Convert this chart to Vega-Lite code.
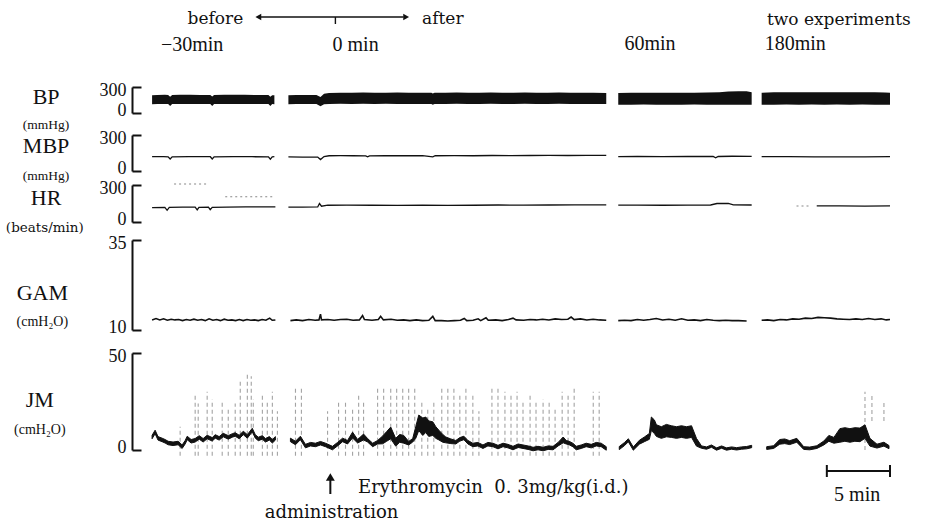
{
"$schema": "https://vega.github.io/schema/vega-lite/v6.json",
"padding": {"left": 5, "top": 0, "right": 0, "bottom": 0},
"background": "white",
"bounds": "flush",
"spacing": 0,
"config": {
  "view": {"stroke": null},
  "axis": {"grid": false},
  "axisY": {"domainColor": "#111", "domainWidth": 2, "tickColor": "#111", "tickWidth": 2, "tickSize": -9, "labelFont": "Liberation Serif", "labelFontSize": 18, "labelColor": "#111", "labelPadding": 15, "labelFlush": true, "labelFlushOffset": 6, "title": null}
},
"datasets": {
  "bp": [
    {"seg":1,"t":1.59,"lo":100,"hi":206},{"seg":1,"t":2.0,"lo":103,"hi":208},{"seg":1,"t":2.6,"lo":104,"hi":210},{"seg":1,"t":2.86,"lo":103,"hi":207},{"seg":1,"t":3.02,"lo":80,"hi":188},{"seg":1,"t":3.18,"lo":103,"hi":207},{"seg":1,"t":3.8,"lo":104,"hi":210},{"seg":1,"t":4.6,"lo":105,"hi":211},{"seg":1,"t":5.4,"lo":104,"hi":209},{"seg":1,"t":6.2,"lo":103,"hi":207},{"seg":1,"t":6.35,"lo":82,"hi":190},{"seg":1,"t":6.5,"lo":103,"hi":207},{"seg":1,"t":7.3,"lo":105,"hi":210},{"seg":1,"t":8.1,"lo":104,"hi":211},{"seg":1,"t":8.9,"lo":105,"hi":210},{"seg":1,"t":9.7,"lo":104,"hi":209},{"seg":1,"t":10.5,"lo":103,"hi":208},{"seg":1,"t":10.8,"lo":103,"hi":207},{"seg":1,"t":10.95,"lo":82,"hi":188},{"seg":1,"t":11.1,"lo":103,"hi":206},{"seg":1,"t":11.27,"lo":100,"hi":204},
    {"seg":2,"t":12.38,"lo":100,"hi":206},{"seg":2,"t":13.0,"lo":104,"hi":208},{"seg":2,"t":13.8,"lo":103,"hi":209},{"seg":2,"t":14.6,"lo":103,"hi":207},{"seg":2,"t":14.92,"lo":78,"hi":185},{"seg":2,"t":15.2,"lo":102,"hi":222},{"seg":2,"t":15.6,"lo":105,"hi":232},{"seg":2,"t":16.5,"lo":106,"hi":234},{"seg":2,"t":17.4,"lo":105,"hi":235},{"seg":2,"t":18.3,"lo":106,"hi":236},{"seg":2,"t":19.2,"lo":105,"hi":234},{"seg":2,"t":20.1,"lo":106,"hi":235},{"seg":2,"t":21.0,"lo":105,"hi":236},{"seg":2,"t":21.9,"lo":104,"hi":235},{"seg":2,"t":22.8,"lo":105,"hi":234},{"seg":2,"t":23.7,"lo":104,"hi":233},{"seg":2,"t":23.81,"lo":95,"hi":225},{"seg":2,"t":23.95,"lo":104,"hi":233},{"seg":2,"t":24.8,"lo":105,"hi":235},{"seg":2,"t":25.7,"lo":106,"hi":236},{"seg":2,"t":26.6,"lo":105,"hi":234},{"seg":2,"t":27.5,"lo":104,"hi":235},{"seg":2,"t":28.4,"lo":106,"hi":236},{"seg":2,"t":29.3,"lo":105,"hi":235},{"seg":2,"t":30.2,"lo":104,"hi":234},{"seg":2,"t":31.1,"lo":106,"hi":236},{"seg":2,"t":32.0,"lo":105,"hi":235},{"seg":2,"t":32.9,"lo":104,"hi":234},{"seg":2,"t":33.8,"lo":106,"hi":236},{"seg":2,"t":34.7,"lo":105,"hi":235},{"seg":2,"t":35.6,"lo":104,"hi":234},{"seg":2,"t":36.5,"lo":105,"hi":235},{"seg":2,"t":37.54,"lo":103,"hi":232},
    {"seg":3,"t":38.49,"lo":94,"hi":230},{"seg":3,"t":39.5,"lo":96,"hi":234},{"seg":3,"t":40.5,"lo":97,"hi":233},{"seg":3,"t":41.5,"lo":96,"hi":234},{"seg":3,"t":42.5,"lo":95,"hi":234},{"seg":3,"t":43.5,"lo":96,"hi":235},{"seg":3,"t":44.5,"lo":97,"hi":235},{"seg":3,"t":45.5,"lo":96,"hi":236},{"seg":3,"t":46.5,"lo":95,"hi":240},{"seg":3,"t":47.2,"lo":96,"hi":248},{"seg":3,"t":48.0,"lo":96,"hi":252},{"seg":3,"t":48.65,"lo":96,"hi":250},{"seg":3,"t":49.05,"lo":95,"hi":240},
    {"seg":4,"t":49.84,"lo":94,"hi":234},{"seg":4,"t":50.8,"lo":96,"hi":238},{"seg":4,"t":51.8,"lo":97,"hi":238},{"seg":4,"t":52.8,"lo":96,"hi":238},{"seg":4,"t":53.8,"lo":97,"hi":239},{"seg":4,"t":54.8,"lo":96,"hi":238},{"seg":4,"t":55.8,"lo":97,"hi":238},{"seg":4,"t":56.8,"lo":96,"hi":238},{"seg":4,"t":57.8,"lo":97,"hi":239},{"seg":4,"t":58.8,"lo":96,"hi":238},{"seg":4,"t":59.6,"lo":96,"hi":237},{"seg":4,"t":60.0,"lo":94,"hi":234}
  ],
  "mbp": [
    {"seg":1,"t":1.59,"v":119},{"seg":1,"t":2.5,"v":120},{"seg":1,"t":2.86,"v":118},{"seg":1,"t":3.02,"v":100},{"seg":1,"t":3.18,"v":118},{"seg":1,"t":4.5,"v":120},{"seg":1,"t":6.2,"v":119},{"seg":1,"t":6.35,"v":100},{"seg":1,"t":6.5,"v":118},{"seg":1,"t":8.0,"v":120},{"seg":1,"t":9.5,"v":119},{"seg":1,"t":10.8,"v":118},{"seg":1,"t":10.95,"v":98},{"seg":1,"t":11.1,"v":118},{"seg":1,"t":11.27,"v":119},
    {"seg":2,"t":12.38,"v":117},{"seg":2,"t":13.5,"v":116},{"seg":2,"t":14.7,"v":116},{"seg":2,"t":14.92,"v":95},{"seg":2,"t":15.2,"v":120},{"seg":2,"t":15.6,"v":127},{"seg":2,"t":16.5,"v":128},{"seg":2,"t":17.5,"v":127},{"seg":2,"t":18.5,"v":126},{"seg":2,"t":18.65,"v":118},{"seg":2,"t":18.8,"v":126},{"seg":2,"t":20.0,"v":128},{"seg":2,"t":21.5,"v":127},{"seg":2,"t":23.0,"v":128},{"seg":2,"t":23.81,"v":118},{"seg":2,"t":24.0,"v":127},{"seg":2,"t":25.5,"v":128},{"seg":2,"t":27.0,"v":127},{"seg":2,"t":28.5,"v":129},{"seg":2,"t":30.0,"v":128},{"seg":2,"t":31.5,"v":129},{"seg":2,"t":33.0,"v":130},{"seg":2,"t":34.5,"v":129},{"seg":2,"t":36.0,"v":131},{"seg":2,"t":37.54,"v":131},
    {"seg":3,"t":38.49,"v":120},{"seg":3,"t":40.0,"v":121},{"seg":3,"t":42.0,"v":119},{"seg":3,"t":44.0,"v":121},{"seg":3,"t":46.0,"v":121},{"seg":3,"t":46.2,"v":110},{"seg":3,"t":46.4,"v":121},{"seg":3,"t":47.5,"v":123},{"seg":3,"t":49.05,"v":122},
    {"seg":4,"t":49.84,"v":119},{"seg":4,"t":52.0,"v":119},{"seg":4,"t":54.0,"v":118},{"seg":4,"t":56.0,"v":117},{"seg":4,"t":58.0,"v":118},{"seg":4,"t":60.0,"v":119}
  ],
  "hr": [
    {"seg":1,"t":1.59,"v":117},{"seg":1,"t":2.6,"v":119},{"seg":1,"t":2.78,"v":95},{"seg":1,"t":2.95,"v":118},{"seg":1,"t":4.0,"v":121},{"seg":1,"t":5.0,"v":120},{"seg":1,"t":5.16,"v":98},{"seg":1,"t":5.3,"v":119},{"seg":1,"t":6.05,"v":120},{"seg":1,"t":6.19,"v":100},{"seg":1,"t":6.35,"v":119},{"seg":1,"t":7.5,"v":121},{"seg":1,"t":9.0,"v":122},{"seg":1,"t":10.5,"v":122},{"seg":1,"t":11.35,"v":122},
    {"seg":2,"t":12.38,"v":120},{"seg":2,"t":13.5,"v":121},{"seg":2,"t":14.7,"v":122},{"seg":2,"t":14.84,"v":150},{"seg":2,"t":15.0,"v":128},{"seg":2,"t":15.5,"v":136},{"seg":2,"t":17.0,"v":137},{"seg":2,"t":19.0,"v":136},{"seg":2,"t":21.0,"v":135},{"seg":2,"t":23.0,"v":136},{"seg":2,"t":25.0,"v":135},{"seg":2,"t":27.0,"v":136},{"seg":2,"t":29.0,"v":138},{"seg":2,"t":31.0,"v":137},{"seg":2,"t":33.0,"v":138},{"seg":2,"t":35.0,"v":139},{"seg":2,"t":37.54,"v":139},
    {"seg":3,"t":38.49,"v":137},{"seg":3,"t":40.0,"v":137},{"seg":3,"t":42.0,"v":136},{"seg":3,"t":44.0,"v":137},{"seg":3,"t":45.8,"v":138},{"seg":3,"t":46.3,"v":150},{"seg":3,"t":47.2,"v":151},{"seg":3,"t":47.6,"v":139},{"seg":3,"t":49.05,"v":138},
    {"seg":4,"t":54.2,"v":130},{"seg":4,"t":56.0,"v":130},{"seg":4,"t":58.0,"v":129},{"seg":4,"t":60.0,"v":130}
  ],
  "hrart": [
    {"seg":"a","t":3.33,"v":308},{"seg":"a","t":6.03,"v":308},
    {"seg":"b","t":7.38,"v":205},{"seg":"b","t":11.1,"v":205},
    {"seg":"c","t":52.6,"v":130},{"seg":"c","t":53.6,"v":130}
  ],
  "gam": [
    {"seg":1,"t":1.59,"v":12.8},{"seg":1,"t":1.9,"v":13.2},{"seg":1,"t":2.2,"v":12.8},{"seg":1,"t":2.5,"v":13.1},{"seg":1,"t":2.8,"v":12.7},{"seg":1,"t":3.1,"v":13.0},{"seg":1,"t":3.4,"v":12.8},{"seg":1,"t":3.7,"v":12.9},{"seg":1,"t":4.0,"v":12.6},{"seg":1,"t":4.3,"v":12.9},{"seg":1,"t":4.6,"v":12.7},{"seg":1,"t":4.9,"v":13.0},{"seg":1,"t":5.2,"v":12.7},{"seg":1,"t":5.5,"v":12.9},{"seg":1,"t":5.8,"v":12.6},{"seg":1,"t":6.1,"v":13.1},{"seg":1,"t":6.4,"v":12.7},{"seg":1,"t":6.7,"v":12.9},{"seg":1,"t":7.0,"v":12.6},{"seg":1,"t":7.3,"v":13.0},{"seg":1,"t":7.6,"v":12.7},{"seg":1,"t":7.9,"v":12.8},{"seg":1,"t":8.2,"v":12.6},{"seg":1,"t":8.5,"v":12.9},{"seg":1,"t":8.8,"v":12.6},{"seg":1,"t":9.1,"v":12.9},{"seg":1,"t":9.4,"v":12.7},{"seg":1,"t":9.7,"v":12.8},{"seg":1,"t":10.0,"v":12.6},{"seg":1,"t":10.3,"v":12.9},{"seg":1,"t":10.6,"v":12.7},{"seg":1,"t":10.9,"v":13.3},{"seg":1,"t":11.1,"v":12.7},{"seg":1,"t":11.35,"v":12.8},
    {"seg":2,"t":12.54,"v":12.6},{"seg":2,"t":13.0,"v":12.8},{"seg":2,"t":13.5,"v":12.6},{"seg":2,"t":14.0,"v":12.9},{"seg":2,"t":14.5,"v":12.7},{"seg":2,"t":14.8,"v":12.8},{"seg":2,"t":14.92,"v":14.4},{"seg":2,"t":15.0,"v":12.8},{"seg":2,"t":15.5,"v":12.9},{"seg":2,"t":16.0,"v":12.7},{"seg":2,"t":16.5,"v":12.9},{"seg":2,"t":17.0,"v":13.0},{"seg":2,"t":17.5,"v":12.7},{"seg":2,"t":18.0,"v":12.8},{"seg":2,"t":18.25,"v":14.0},{"seg":2,"t":18.4,"v":12.9},{"seg":2,"t":19.0,"v":12.7},{"seg":2,"t":19.5,"v":12.9},{"seg":2,"t":19.68,"v":13.8},{"seg":2,"t":19.9,"v":12.8},{"seg":2,"t":20.5,"v":13.0},{"seg":2,"t":21.0,"v":12.7},{"seg":2,"t":21.5,"v":12.8},{"seg":2,"t":22.0,"v":12.6},{"seg":2,"t":22.5,"v":12.8},{"seg":2,"t":23.0,"v":12.6},{"seg":2,"t":23.5,"v":12.7},{"seg":2,"t":23.81,"v":13.8},{"seg":2,"t":24.0,"v":12.6},{"seg":2,"t":24.5,"v":12.6},{"seg":2,"t":25.0,"v":12.5},{"seg":2,"t":25.5,"v":12.6},{"seg":2,"t":26.0,"v":12.7},{"seg":2,"t":26.3,"v":13.2},{"seg":2,"t":26.5,"v":12.6},{"seg":2,"t":27.0,"v":12.7},{"seg":2,"t":27.4,"v":13.1},{"seg":2,"t":27.6,"v":12.6},{"seg":2,"t":28.02,"v":13.4},{"seg":2,"t":28.2,"v":12.7},{"seg":2,"t":28.8,"v":12.8},{"seg":2,"t":29.3,"v":12.6},{"seg":2,"t":29.8,"v":12.9},{"seg":2,"t":30.16,"v":13.3},{"seg":2,"t":30.4,"v":12.8},{"seg":2,"t":31.0,"v":12.7},{"seg":2,"t":31.5,"v":12.9},{"seg":2,"t":32.0,"v":12.8},{"seg":2,"t":32.5,"v":13.0},{"seg":2,"t":33.0,"v":12.8},{"seg":2,"t":33.5,"v":13.1},{"seg":2,"t":34.0,"v":12.9},{"seg":2,"t":34.5,"v":13.0},{"seg":2,"t":34.76,"v":13.6},{"seg":2,"t":35.0,"v":12.9},{"seg":2,"t":35.5,"v":13.1},{"seg":2,"t":36.0,"v":12.8},{"seg":2,"t":36.5,"v":13.0},{"seg":2,"t":37.0,"v":12.8},{"seg":2,"t":37.54,"v":12.7},
    {"seg":3,"t":38.49,"v":12.6},{"seg":3,"t":39.0,"v":12.7},{"seg":3,"t":39.5,"v":12.6},{"seg":3,"t":40.0,"v":12.9},{"seg":3,"t":40.5,"v":12.7},{"seg":3,"t":41.0,"v":12.9},{"seg":3,"t":41.5,"v":13.2},{"seg":3,"t":42.0,"v":12.8},{"seg":3,"t":42.5,"v":13.0},{"seg":3,"t":43.0,"v":12.7},{"seg":3,"t":43.5,"v":13.1},{"seg":3,"t":44.0,"v":12.7},{"seg":3,"t":44.5,"v":12.8},{"seg":3,"t":45.0,"v":12.6},{"seg":3,"t":45.5,"v":12.9},{"seg":3,"t":46.0,"v":12.7},{"seg":3,"t":46.5,"v":12.6},{"seg":3,"t":47.0,"v":12.7},{"seg":3,"t":47.5,"v":12.6},{"seg":3,"t":48.0,"v":12.6},{"seg":3,"t":48.65,"v":12.5},
    {"seg":4,"t":49.84,"v":12.7},{"seg":4,"t":50.3,"v":12.8},{"seg":4,"t":50.8,"v":12.6},{"seg":4,"t":51.3,"v":12.9},{"seg":4,"t":51.8,"v":12.8},{"seg":4,"t":52.3,"v":13.1},{"seg":4,"t":52.8,"v":13.0},{"seg":4,"t":53.3,"v":13.3},{"seg":4,"t":53.8,"v":13.2},{"seg":4,"t":54.3,"v":13.5},{"seg":4,"t":54.8,"v":13.4},{"seg":4,"t":55.3,"v":13.3},{"seg":4,"t":55.8,"v":13.1},{"seg":4,"t":56.3,"v":13.0},{"seg":4,"t":56.8,"v":12.9},{"seg":4,"t":57.3,"v":13.1},{"seg":4,"t":57.8,"v":12.9},{"seg":4,"t":58.3,"v":13.2},{"seg":4,"t":58.8,"v":12.9},{"seg":4,"t":59.3,"v":13.1},{"seg":4,"t":59.7,"v":12.8},{"seg":4,"t":60.0,"v":12.9}
  ],
  "jm": [
    {"seg":1,"t":1.59,"lo":5.8,"hi":7.6},{"seg":1,"t":1.83,"lo":8.4,"hi":10.2},{"seg":1,"t":2.06,"lo":5.1,"hi":6.9},{"seg":1,"t":2.38,"lo":4.3,"hi":6.1},{"seg":1,"t":2.62,"lo":3.6,"hi":5.4},{"seg":1,"t":2.86,"lo":2.7,"hi":4.5},{"seg":1,"t":3.25,"lo":2.3,"hi":4.1},{"seg":1,"t":3.65,"lo":2.7,"hi":4.5},{"seg":1,"t":3.97,"lo":0.8,"hi":2.6},{"seg":1,"t":4.21,"lo":3.1,"hi":4.9},{"seg":1,"t":4.37,"lo":5.3,"hi":7.1},{"seg":1,"t":4.68,"lo":3.6,"hi":5.4},{"seg":1,"t":5.0,"lo":4.1,"hi":5.9},{"seg":1,"t":5.32,"lo":5.6,"hi":7.4},{"seg":1,"t":5.63,"lo":4.1,"hi":5.9},{"seg":1,"t":5.95,"lo":5.8,"hi":7.6},{"seg":1,"t":6.35,"lo":4.6,"hi":6.4},{"seg":1,"t":6.59,"lo":6.1,"hi":7.9},{"seg":1,"t":6.9,"lo":5.1,"hi":6.9},{"seg":1,"t":7.22,"lo":6.8,"hi":8.6},{"seg":1,"t":7.62,"lo":5.6,"hi":7.4},{"seg":1,"t":7.94,"lo":6.6,"hi":8.4},{"seg":1,"t":8.17,"lo":7.1,"hi":8.9},{"seg":1,"t":8.49,"lo":5.8,"hi":7.6},{"seg":1,"t":8.81,"lo":7.9,"hi":9.7},{"seg":1,"t":9.13,"lo":6.1,"hi":7.9},{"seg":1,"t":9.52,"lo":9.4,"hi":11.2},{"seg":1,"t":9.76,"lo":6.1,"hi":7.9},{"seg":1,"t":10.0,"lo":4.8,"hi":6.6},{"seg":1,"t":10.32,"lo":5.6,"hi":7.4},{"seg":1,"t":10.56,"lo":4.1,"hi":5.9},{"seg":1,"t":10.87,"lo":5.1,"hi":6.9},{"seg":1,"t":11.11,"lo":3.6,"hi":5.4},{"seg":1,"t":11.35,"lo":5.1,"hi":6.9},
    {"seg":2,"t":12.54,"lo":4.3,"hi":6.1},{"seg":2,"t":12.94,"lo":2.7,"hi":4.5},{"seg":2,"t":13.33,"lo":5.3,"hi":7.1},{"seg":2,"t":13.73,"lo":1.1,"hi":2.9},{"seg":2,"t":14.13,"lo":2.1,"hi":3.9},{"seg":2,"t":14.52,"lo":1.7,"hi":3.5},{"seg":2,"t":14.92,"lo":2.6,"hi":4.4},{"seg":2,"t":15.32,"lo":1.7,"hi":3.5},{"seg":2,"t":15.87,"lo":0.1,"hi":1.9},{"seg":2,"t":16.27,"lo":2.1,"hi":3.9},{"seg":2,"t":16.67,"lo":4.3,"hi":6.1},{"seg":2,"t":17.06,"lo":3.1,"hi":4.9},{"seg":2,"t":17.46,"lo":6.2,"hi":9.2},{"seg":2,"t":17.86,"lo":3.6,"hi":5.4},{"seg":2,"t":18.33,"lo":5.2,"hi":8.2},{"seg":2,"t":18.65,"lo":4.1,"hi":5.9},{"seg":2,"t":19.05,"lo":1.7,"hi":3.5},{"seg":2,"t":19.44,"lo":3.1,"hi":4.9},{"seg":2,"t":19.84,"lo":3.2,"hi":7.2},{"seg":2,"t":20.16,"lo":4.5,"hi":9.5},{"seg":2,"t":20.48,"lo":5.8,"hi":11.8},{"seg":2,"t":20.87,"lo":2.0,"hi":6.0},{"seg":2,"t":21.19,"lo":4.0,"hi":8.0},{"seg":2,"t":21.51,"lo":3.5,"hi":7.5},{"seg":2,"t":21.9,"lo":2.6,"hi":4.4},{"seg":2,"t":22.22,"lo":4.1,"hi":5.9},{"seg":2,"t":22.46,"lo":6.0,"hi":12.0},{"seg":2,"t":22.70,"lo":10.0,"hi":18.0},{"seg":2,"t":23.02,"lo":7.5,"hi":16.5},{"seg":2,"t":23.25,"lo":9.0,"hi":17.0},{"seg":2,"t":23.49,"lo":7.0,"hi":15.0},{"seg":2,"t":23.81,"lo":7.5,"hi":14.5},{"seg":2,"t":24.05,"lo":6.0,"hi":12.0},{"seg":2,"t":24.29,"lo":5.2,"hi":10.2},{"seg":2,"t":24.60,"lo":4.0,"hi":8.0},{"seg":2,"t":24.84,"lo":3.7,"hi":6.7},{"seg":2,"t":25.24,"lo":3.3,"hi":5.7},{"seg":2,"t":25.63,"lo":3.1,"hi":4.9},{"seg":2,"t":25.95,"lo":4.6,"hi":6.4},{"seg":2,"t":26.27,"lo":5.3,"hi":7.1},{"seg":2,"t":26.59,"lo":3.1,"hi":4.9},{"seg":2,"t":26.98,"lo":1.7,"hi":3.5},{"seg":2,"t":27.38,"lo":2.1,"hi":3.9},{"seg":2,"t":27.78,"lo":0.8,"hi":2.6},{"seg":2,"t":28.17,"lo":2.1,"hi":3.9},{"seg":2,"t":28.57,"lo":1.7,"hi":3.5},{"seg":2,"t":28.97,"lo":0.6,"hi":2.4},{"seg":2,"t":29.37,"lo":1.7,"hi":3.5},{"seg":2,"t":29.76,"lo":1.1,"hi":2.9},{"seg":2,"t":30.16,"lo":0.1,"hi":1.9},{"seg":2,"t":30.56,"lo":1.3,"hi":3.1},{"seg":2,"t":30.95,"lo":0.8,"hi":2.6},{"seg":2,"t":31.35,"lo":0.3,"hi":2.1},{"seg":2,"t":31.75,"lo":-0.4,"hi":1.4},{"seg":2,"t":32.14,"lo":0.1,"hi":1.9},{"seg":2,"t":32.54,"lo":-0.4,"hi":1.4},{"seg":2,"t":32.94,"lo":0.3,"hi":2.1},{"seg":2,"t":33.33,"lo":0.1,"hi":1.9},{"seg":2,"t":33.73,"lo":2.1,"hi":3.9},{"seg":2,"t":34.13,"lo":3.7,"hi":6.7},{"seg":2,"t":34.37,"lo":3.1,"hi":4.9},{"seg":2,"t":34.60,"lo":2.7,"hi":4.5},{"seg":2,"t":34.92,"lo":1.6,"hi":3.4},{"seg":2,"t":35.16,"lo":0.1,"hi":1.9},{"seg":2,"t":35.56,"lo":0.8,"hi":2.6},{"seg":2,"t":35.95,"lo":1.7,"hi":3.5},{"seg":2,"t":36.35,"lo":1.1,"hi":2.9},{"seg":2,"t":36.75,"lo":2.1,"hi":3.9},{"seg":2,"t":37.14,"lo":1.7,"hi":3.5},{"seg":2,"t":37.54,"lo":-0.1,"hi":1.7},
    {"seg":3,"t":38.57,"lo":0.2,"hi":1.8},{"seg":3,"t":38.97,"lo":2.2,"hi":3.8},{"seg":3,"t":39.29,"lo":4.2,"hi":5.8},{"seg":3,"t":39.68,"lo":-0.1,"hi":1.5},{"seg":3,"t":40.16,"lo":3.0,"hi":5.0},{"seg":3,"t":40.56,"lo":4.3,"hi":6.7},{"seg":3,"t":40.95,"lo":5.5,"hi":8.5},{"seg":3,"t":41.11,"lo":10.0,"hi":17.0},{"seg":3,"t":41.35,"lo":8.5,"hi":15.5},{"seg":3,"t":41.51,"lo":7.0,"hi":13.0},{"seg":3,"t":41.90,"lo":6.0,"hi":12.0},{"seg":3,"t":42.30,"lo":6.8,"hi":13.2},{"seg":3,"t":42.70,"lo":6.5,"hi":12.5},{"seg":3,"t":43.10,"lo":6.0,"hi":12.0},{"seg":3,"t":43.49,"lo":6.5,"hi":12.5},{"seg":3,"t":43.89,"lo":6.0,"hi":12.0},{"seg":3,"t":44.29,"lo":6.5,"hi":12.5},{"seg":3,"t":44.68,"lo":2.0,"hi":6.0},{"seg":3,"t":45.08,"lo":0.9,"hi":2.1},{"seg":3,"t":45.48,"lo":0.4,"hi":1.6},{"seg":3,"t":45.87,"lo":1.4,"hi":2.6},{"seg":3,"t":46.27,"lo":-0.1,"hi":1.1},{"seg":3,"t":46.67,"lo":0.9,"hi":2.1},{"seg":3,"t":47.06,"lo":-0.1,"hi":1.1},{"seg":3,"t":47.46,"lo":0.4,"hi":1.6},{"seg":3,"t":47.86,"lo":0.0,"hi":1.2},{"seg":3,"t":48.25,"lo":0.4,"hi":1.6},{"seg":3,"t":48.65,"lo":0.6,"hi":1.8},{"seg":3,"t":49.05,"lo":1.2,"hi":2.4},
    {"seg":4,"t":50.24,"lo":0.3,"hi":1.7},{"seg":4,"t":50.79,"lo":0.8,"hi":2.2},{"seg":4,"t":51.27,"lo":3.0,"hi":5.4},{"seg":4,"t":51.67,"lo":3.3,"hi":5.7},{"seg":4,"t":52.06,"lo":2.8,"hi":4.8},{"seg":4,"t":52.62,"lo":4.0,"hi":6.0},{"seg":4,"t":53.17,"lo":0.3,"hi":1.7},{"seg":4,"t":53.65,"lo":0.1,"hi":1.5},{"seg":4,"t":54.21,"lo":0.8,"hi":2.2},{"seg":4,"t":54.76,"lo":2.6,"hi":4.6},{"seg":4,"t":55.16,"lo":4.5,"hi":7.5},{"seg":4,"t":55.56,"lo":3.5,"hi":6.5},{"seg":4,"t":56.03,"lo":4.0,"hi":11.0},{"seg":4,"t":56.43,"lo":4.5,"hi":11.5},{"seg":4,"t":56.83,"lo":4.0,"hi":11.0},{"seg":4,"t":57.22,"lo":4.5,"hi":11.5},{"seg":4,"t":57.62,"lo":4.3,"hi":11.3},{"seg":4,"t":58.02,"lo":6.0,"hi":13.0},{"seg":4,"t":58.41,"lo":2.0,"hi":6.0},{"seg":4,"t":58.97,"lo":1.0,"hi":3.0},{"seg":4,"t":59.52,"lo":2.0,"hi":4.0},{"seg":4,"t":59.92,"lo":0.7,"hi":2.3}
  ],
  "jmart": [
    {"t":3.81,"lo":-3,"hi":12},{"t":5.0,"lo":-3,"hi":28},{"t":5.24,"lo":-3,"hi":24},{"t":5.95,"lo":-3,"hi":30},{"t":6.35,"lo":-3,"hi":26},{"t":7.14,"lo":-3,"hi":25},{"t":7.62,"lo":-3,"hi":22},{"t":8.17,"lo":-3,"hi":24},{"t":8.57,"lo":-3,"hi":36},{"t":9.13,"lo":-3,"hi":40},{"t":9.44,"lo":-3,"hi":38},{"t":9.6,"lo":-3,"hi":26},{"t":10.32,"lo":-3,"hi":28},{"t":10.71,"lo":-3,"hi":25},{"t":11.11,"lo":-3,"hi":30},{"t":11.51,"lo":-3,"hi":20},
    {"t":12.94,"lo":-3,"hi":33},{"t":13.41,"lo":-3,"hi":33},{"t":15.48,"lo":-3,"hi":20},{"t":16.35,"lo":-3,"hi":25},{"t":16.9,"lo":-3,"hi":25},{"t":17.46,"lo":-3,"hi":22},{"t":17.94,"lo":-3,"hi":28},{"t":18.33,"lo":-3,"hi":25},{"t":19.44,"lo":-3,"hi":33},{"t":19.92,"lo":-3,"hi":33},{"t":20.48,"lo":-3,"hi":33},{"t":20.95,"lo":-3,"hi":33},{"t":21.43,"lo":-3,"hi":33},{"t":21.9,"lo":-3,"hi":33},{"t":22.38,"lo":-3,"hi":33},{"t":22.94,"lo":-3,"hi":25},{"t":23.41,"lo":-3,"hi":22},{"t":23.89,"lo":-3,"hi":25},{"t":24.52,"lo":-3,"hi":33},{"t":25.0,"lo":-3,"hi":33},{"t":25.48,"lo":-3,"hi":33},{"t":25.95,"lo":-3,"hi":28},{"t":26.43,"lo":-3,"hi":33},{"t":26.98,"lo":-3,"hi":28},{"t":27.46,"lo":-3,"hi":20},{"t":28.49,"lo":-3,"hi":33},{"t":28.97,"lo":-3,"hi":33},{"t":29.52,"lo":-3,"hi":30},{"t":30.0,"lo":-3,"hi":28},{"t":30.48,"lo":-3,"hi":30},{"t":30.95,"lo":-3,"hi":25},{"t":31.51,"lo":-3,"hi":28},{"t":31.98,"lo":-3,"hi":25},{"t":32.54,"lo":-3,"hi":26},{"t":33.02,"lo":-3,"hi":25},{"t":33.49,"lo":-3,"hi":22},{"t":34.05,"lo":-3,"hi":30},{"t":34.52,"lo":-3,"hi":28},{"t":35.0,"lo":-3,"hi":33},{"t":36.51,"lo":-3,"hi":30},{"t":36.98,"lo":-3,"hi":30},
    {"t":58.02,"lo":0,"hi":30},{"t":58.57,"lo":15,"hi":28},{"t":59.52,"lo":15,"hi":25}
  ]
},
"vconcat": [
  {
    "width": 758, "height": 87,
    "layer": [
      {"data": {"values": [{"t":6.6,"v":68,"label":"before"},{"t":24.6,"v":68,"label":"after"},{"t":55.95,"v":67,"label":"two experiments"}]},
       "mark": {"type": "text", "font": "DejaVu Serif", "fontSize": 17, "color": "#111"},
       "encoding": {"x": {"field":"t","type":"quantitative","scale":{"domain":[0,60],"nice":false,"zero":false},"axis":null},
                    "y": {"field":"v","type":"quantitative","scale":{"domain":[0,87],"nice":false,"zero":false},"axis":null},
                    "text": {"field":"label"}}},
      {"data": {"values": [{"t":4.76,"v":42,"label":"−30min"},{"t":17.7,"v":42,"label":"0 min"},{"t":41.0,"v":43,"label":"60min"},{"t":52.5,"v":43,"label":"180min"}]},
       "mark": {"type": "text", "font": "Liberation Serif", "fontSize": 20, "color": "#111"},
       "encoding": {"x": {"field":"t","type":"quantitative"}, "y": {"field":"v","type":"quantitative"}, "text": {"field":"label"}}},
      {"data": {"values": [{"t":10.2,"t2":21.5,"v":70}]},
       "mark": {"type": "rule", "strokeWidth": 1.6, "color": "#111"},
       "encoding": {"x": {"field":"t","type":"quantitative"}, "x2": {"field":"t2"}, "y": {"field":"v","type":"quantitative"}}},
      {"data": {"values": [{"t":16.1,"v":70,"v2":63}]},
       "mark": {"type": "rule", "strokeWidth": 1.4, "color": "#111"},
       "encoding": {"x": {"field":"t","type":"quantitative"}, "y": {"field":"v","type":"quantitative"}, "y2": {"field":"v2"}}},
      {"data": {"values": [{"t":10.0,"v":70}]},
       "mark": {"type": "point", "shape": "triangle-left", "filled": true, "size": 45, "color": "#111", "opacity": 1},
       "encoding": {"x": {"field":"t","type":"quantitative"}, "y": {"field":"v","type":"quantitative"}}},
      {"data": {"values": [{"t":21.7,"v":70}]},
       "mark": {"type": "point", "shape": "triangle-right", "filled": true, "size": 45, "color": "#111", "opacity": 1},
       "encoding": {"x": {"field":"t","type":"quantitative"}, "y": {"field":"v","type":"quantitative"}}}
    ]
  },
  {
    "width": 758, "height": 48,
    "layer": [
      {"data": {"name": "bp"},
       "mark": {"type": "area", "color": "#111", "opacity": 1},
       "encoding": {"x": {"field":"t","type":"quantitative","scale":{"domain":[0,60],"nice":false,"zero":false},"axis":null},
                    "y": {"field":"lo","type":"quantitative","scale":{"domain":[0,300],"range":[26,0],"nice":false,"zero":false},"axis":{"values":[0,300]}},
                    "y2": {"field":"hi"},
                    "detail": {"field":"seg"}}},
      {"data": {"values": [{"t":-6.8,"lo":185,"label":"BP"}]},
       "mark": {"type": "text", "font": "Liberation Serif", "fontSize": 22, "color": "#111"},
       "encoding": {"x": {"field":"t","type":"quantitative"}, "y": {"field":"lo","type":"quantitative"}, "text": {"field":"label"}}},
      {"data": {"values": [{"t":-6.8,"lo":-140,"label":"(mmHg)"}]},
       "mark": {"type": "text", "font": "Liberation Serif", "fontSize": 13.5, "color": "#111"},
       "encoding": {"x": {"field":"t","type":"quantitative"}, "y": {"field":"lo","type":"quantitative"}, "text": {"field":"label"}}}
    ]
  },
  {
    "width": 758, "height": 50,
    "layer": [
      {"data": {"name": "mbp"},
       "mark": {"type": "line", "color": "#111", "strokeWidth": 1.3},
       "encoding": {"x": {"field":"t","type":"quantitative","scale":{"domain":[0,60],"nice":false,"zero":false},"axis":null},
                    "y": {"field":"v","type":"quantitative","scale":{"domain":[0,300],"range":[36,0],"nice":false,"zero":false},"axis":{"values":[0,300]}},
                    "detail": {"field":"seg"}}},
      {"data": {"values": [{"t":-6.8,"v":205,"label":"MBP"}]},
       "mark": {"type": "text", "font": "Liberation Serif", "fontSize": 22, "color": "#111"},
       "encoding": {"x": {"field":"t","type":"quantitative"}, "y": {"field":"v","type":"quantitative"}, "text": {"field":"label"}}},
      {"data": {"values": [{"t":-6.8,"v":-42,"label":"(mmHg)"}]},
       "mark": {"type": "text", "font": "Liberation Serif", "fontSize": 13.5, "color": "#111"},
       "encoding": {"x": {"field":"t","type":"quantitative"}, "y": {"field":"v","type":"quantitative"}, "text": {"field":"label"}}}
    ]
  },
  {
    "width": 758, "height": 55,
    "layer": [
      {"data": {"name": "hr"},
       "mark": {"type": "line", "color": "#111", "strokeWidth": 1.3},
       "encoding": {"x": {"field":"t","type":"quantitative","scale":{"domain":[0,60],"nice":false,"zero":false},"axis":null},
                    "y": {"field":"v","type":"quantitative","scale":{"domain":[0,300],"range":[37,0],"nice":false,"zero":false},"axis":{"values":[0,300]}},
                    "detail": {"field":"seg"}}},
      {"data": {"name": "hrart"},
       "mark": {"type": "line", "color": "#888", "strokeWidth": 1.1, "strokeDash": [2, 3]},
       "encoding": {"x": {"field":"t","type":"quantitative"}, "y": {"field":"v","type":"quantitative"}, "detail": {"field":"seg"}}},
      {"data": {"values": [{"t":-6.8,"v":195,"label":"HR"}]},
       "mark": {"type": "text", "font": "Liberation Serif", "fontSize": 22, "color": "#111"},
       "encoding": {"x": {"field":"t","type":"quantitative"}, "y": {"field":"v","type":"quantitative"}, "text": {"field":"label"}}},
      {"data": {"values": [{"t":-6.9,"v":-49,"label":"(beats/min)"}]},
       "mark": {"type": "text", "font": "DejaVu Serif", "fontSize": 13.5, "color": "#111"},
       "encoding": {"x": {"field":"t","type":"quantitative"}, "y": {"field":"v","type":"quantitative"}, "text": {"field":"label"}}}
    ]
  },
  {
    "width": 758, "height": 113,
    "layer": [
      {"data": {"name": "gam"},
       "mark": {"type": "line", "color": "#111", "strokeWidth": 1.6},
       "encoding": {"x": {"field":"t","type":"quantitative","scale":{"domain":[0,60],"nice":false,"zero":false},"axis":null},
                    "y": {"field":"v","type":"quantitative","scale":{"domain":[10,35],"range":[90,0],"nice":false,"zero":false},"axis":{"values":[10,35]}},
                    "detail": {"field":"seg"}}},
      {"data": {"values": [{"t":-7.1,"v":20.3,"label":"GAM"}]},
       "mark": {"type": "text", "font": "Liberation Serif", "fontSize": 22, "color": "#111"},
       "encoding": {"x": {"field":"t","type":"quantitative"}, "y": {"field":"v","type":"quantitative"}, "text": {"field":"label"}}},
      {"data": {"values": [{"t":-7.1,"v":12.2,"label":"(cmH₂O)"}]},
       "mark": {"type": "text", "font": "Liberation Serif", "fontSize": 14, "color": "#111"},
       "encoding": {"x": {"field":"t","type":"quantitative"}, "y": {"field":"v","type":"quantitative"}, "text": {"field":"label"}}}
    ]
  },
  {
    "width": 758, "height": 97,
    "layer": [
      {"data": {"name": "jmart"},
       "mark": {"type": "rule", "color": "#333", "strokeWidth": 1.1, "strokeDash": [4, 3], "opacity": 0.45},
       "encoding": {"x": {"field":"t","type":"quantitative","scale":{"domain":[0,60],"nice":false,"zero":false},"axis":null},
                    "y": {"field":"lo","type":"quantitative","scale":{"domain":[0,50],"nice":false,"zero":false},"axis":{"values":[0,50]}},
                    "y2": {"field":"hi"}}},
      {"data": {"name": "jm"},
       "mark": {"type": "area", "color": "#111", "opacity": 1, "stroke": "#111", "strokeWidth": 1},
       "encoding": {"x": {"field":"t","type":"quantitative"},
                    "y": {"field":"lo","type":"quantitative"},
                    "y2": {"field":"hi"},
                    "detail": {"field":"seg"}}},
      {"data": {"values": [{"t":-7.3,"lo":25.8,"label":"JM"}]},
       "mark": {"type": "text", "font": "Liberation Serif", "fontSize": 22, "color": "#111"},
       "encoding": {"x": {"field":"t","type":"quantitative"}, "y": {"field":"lo","type":"quantitative"}, "text": {"field":"label"}}},
      {"data": {"values": [{"t":-7.3,"lo":10.3,"label":"(cmH₂O)"}]},
       "mark": {"type": "text", "font": "Liberation Serif", "fontSize": 14, "color": "#111"},
       "encoding": {"x": {"field":"t","type":"quantitative"}, "y": {"field":"lo","type":"quantitative"}, "text": {"field":"label"}}}
    ]
  },
  {
    "width": 758, "height": 75,
    "layer": [
      {"data": {"values": [{"t":15.7,"v":31,"v2":46}]},
       "mark": {"type": "rule", "strokeWidth": 2, "color": "#111"},
       "encoding": {"x": {"field":"t","type":"quantitative","scale":{"domain":[0,60],"nice":false,"zero":false},"axis":null},
                    "y": {"field":"v","type":"quantitative","scale":{"domain":[0,75],"nice":false,"zero":false},"axis":null},
                    "y2": {"field":"v2"}}},
      {"data": {"values": [{"t":15.7,"v":48}]},
       "mark": {"type": "point", "shape": "triangle-up", "filled": true, "size": 80, "color": "#111", "opacity": 1},
       "encoding": {"x": {"field":"t","type":"quantitative"}, "y": {"field":"v","type":"quantitative"}}},
      {"data": {"values": [{"t":28.6,"v":37,"label":"Erythromycin\u00a0\u00a00. 3mg/kg(i.d.)"},{"t":15.8,"v":12,"label":"administration"}]},
       "mark": {"type": "text", "font": "DejaVu Serif", "fontSize": 18, "color": "#111"},
       "encoding": {"x": {"field":"t","type":"quantitative"}, "y": {"field":"v","type":"quantitative"}, "text": {"field":"label"}}},
      {"data": {"values": [{"t":55.0,"t2":60.0,"v":54}]},
       "mark": {"type": "rule", "strokeWidth": 2.2, "color": "#111"},
       "encoding": {"x": {"field":"t","type":"quantitative"}, "x2": {"field":"t2"}, "y": {"field":"v","type":"quantitative"}}},
      {"data": {"values": [{"t":55.0,"v":48,"v2":60},{"t":60.0,"v":48,"v2":60}]},
       "mark": {"type": "rule", "strokeWidth": 2, "color": "#111"},
       "encoding": {"x": {"field":"t","type":"quantitative"}, "y": {"field":"v","type":"quantitative"}, "y2": {"field":"v2"}}},
      {"data": {"values": [{"t":57.4,"v":30,"label":"5 min"}]},
       "mark": {"type": "text", "font": "Liberation Serif", "fontSize": 20, "color": "#111"},
       "encoding": {"x": {"field":"t","type":"quantitative"}, "y": {"field":"v","type":"quantitative"}, "text": {"field":"label"}}}
    ]
  }
]
}
